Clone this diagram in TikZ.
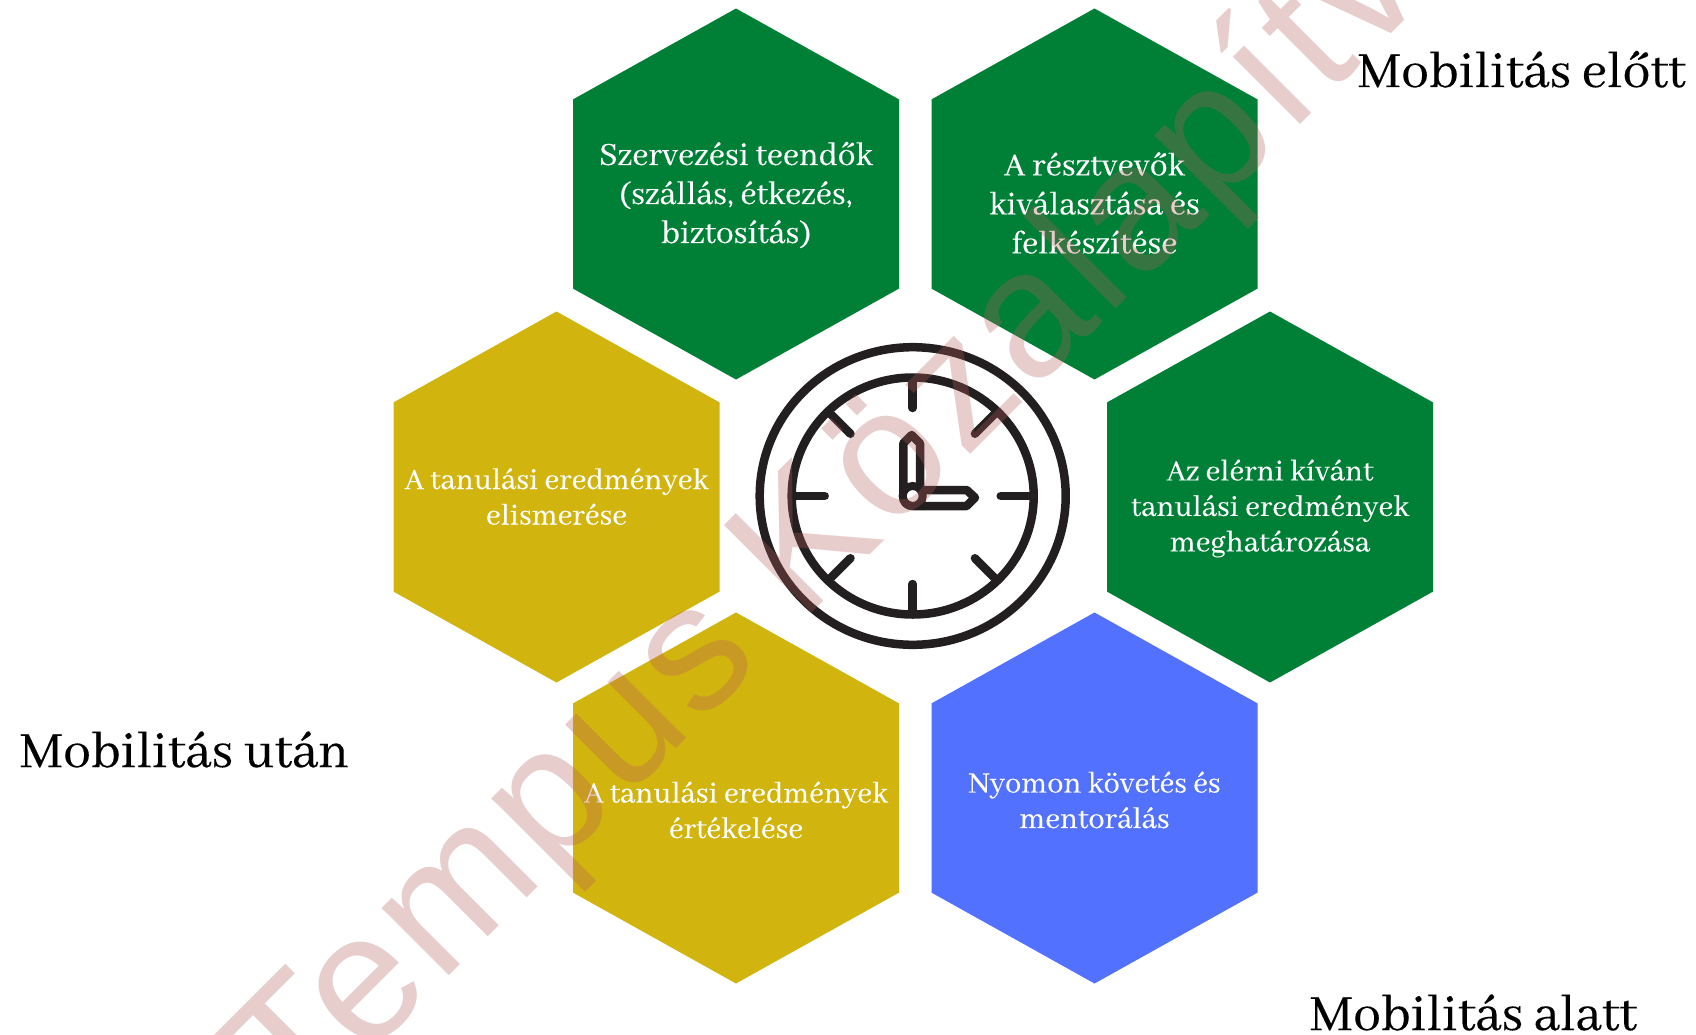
\documentclass[tikz,border=0pt]{standalone}
\usepackage{fontspec}
\usetikzlibrary{calc}
\setmainfont[FakeBold=0.25]{Abhaya Libre}
\newfontfamily\wmfont[LetterSpace=3]{Liberation Sans}
\definecolor{hexgreen}{HTML}{008037}
\definecolor{hexyellow}{HTML}{D2B40E}
\definecolor{hexblue}{HTML}{5271FF}
\definecolor{clockink}{HTML}{231F20}
\definecolor{wmred}{RGB}{182,92,92}
\tikzset{
  hexlabel/.style={text=white,align=center,font=\fontsize{35.5}{39}\selectfont,inner sep=0pt},
  hexlabeltight/.style={text=white,align=center,font=\fontsize{32.5}{35.5}\selectfont,inner sep=0pt},
  phase/.style={text=black,anchor=base west,font=\fontsize{55.5}{60}\selectfont,inner sep=0pt},
  clockline/.style={draw=clockink,line width=8.5pt,line cap=round,line join=round},
  watermark/.style={text=wmred,text opacity=.3,anchor=base west,rotate=45,inner sep=0pt,font=\wmfont\fontsize{180}{180}\selectfont}
}
\newcommand{\hexa}[3]{\fill[#3] (#1,#2-185.5) -- (#1+163,#2-94.6) -- (#1+163,#2+94.6) -- (#1,#2+185.5) -- (#1-163,#2+94.6) -- (#1-163,#2-94.6) -- cycle;}
\begin{document}
\begin{tikzpicture}[x=1pt,y=-1pt]
\useasboundingbox (0,0) rectangle (1696,1035);
\clip (0,0) rectangle (1696,1035);
\fill[white] (0,0) rectangle (1696,1035);
% hexagons
\hexa{736}{194}{hexgreen}
\hexa{1094.5}{194}{hexgreen}
\hexa{1270}{497}{hexgreen}
\hexa{556.5}{497}{hexyellow}
\hexa{736}{798}{hexyellow}
\hexa{1094.5}{798}{hexblue}
\node[hexlabel] (szervezes) at (736,195) {Szervezési teendők\\(szállás, étkezés,\\biztosítás)};
\node[hexlabel] (resztvevok) at (1094.5,203) {A résztvevők\\kiválasztása és\\felkészítése};
\node[hexlabeltight] (elerni) at (1270,508.5) {Az elérni kívánt\\tanulási eredmények\\meghatározása};
\node[hexlabeltight] (elismeres) at (556.5,496.5) {A tanulási eredmények\\elismerése};
\node[hexlabeltight] (ertekeles) at (736,810) {A tanulási eredmények\\értékelése};
\node[hexlabeltight] (nyomon) at (1094.5,800) {Nyomon követés és\\mentorálás};
% phase labels
\node[phase] (elott) at (1357,87) {Mobilitás előtt};
\node[phase] (utan) at (19,767) {Mobilitás után};
\node[phase] (alatt) at (1309,1030) {Mobilitás alatt};
% clock
\coordinate (clockc) at (912.7,496);
\draw[clockline] (clockc) ellipse[x radius=153,y radius=148.8];
\draw[clockline] (clockc) ellipse[x radius=121,y radius=118.5];
\foreach \a in {0,45,...,315}{
  \draw[clockline] ($(clockc)+(\a:118)$) -- ($(clockc)+(\a:88)$);
}
\draw[clockline] (903.3,497) -- (903.3,443.3) -- (911.7,435) -- (920,443.3) -- (920,490) -- (966.7,490) -- (975,497.7) -- (966.7,506) -- (912.7,506) .. controls (907,506) and (903.3,502) .. (903.3,497) -- cycle;
\fill[white] (clockc) circle[radius=6];
\draw[draw=clockink,line width=8pt] (clockc) circle[radius=10];
% watermark
\node[watermark] (tempus) at (298,1127) {Tempus Közalapítvány};
\end{tikzpicture}
\end{document}
